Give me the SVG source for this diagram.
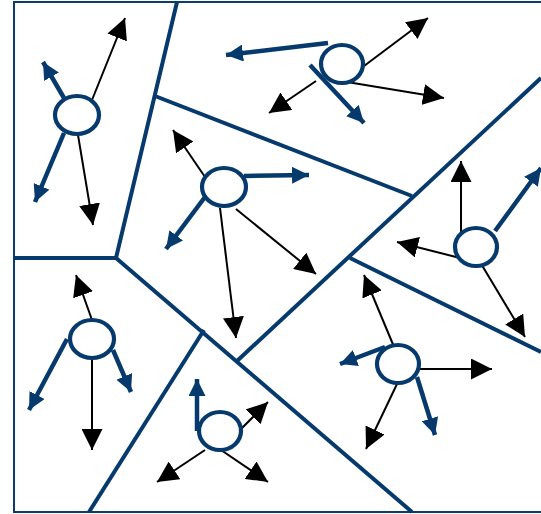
<svg xmlns="http://www.w3.org/2000/svg" width="541" height="514" viewBox="0 0 541 514">
<style>
.border{fill:none;stroke:#0a3d6e;stroke-width:2}
.part{fill:none;stroke:#063a6c;stroke-width:4;stroke-linecap:butt}
.node{fill:#fff;stroke:#063a6c;stroke-width:4.2}
.blk{stroke:#000;stroke-width:2;fill:none;marker-end:url(#hb)}
.blu{stroke:#063a6c;stroke-width:4.5;fill:none;marker-end:url(#hu)}
</style>
<defs>
<marker id="hb" markerUnits="userSpaceOnUse" markerWidth="21" markerHeight="21" refX="21" refY="10.5" orient="auto" viewBox="0 0 21 21">
<path d="M0,0 L21,10.5 L0,21 z" fill="#000"/>
</marker>
<marker id="hu" markerUnits="userSpaceOnUse" markerWidth="17" markerHeight="17" refX="17" refY="8.5" orient="auto" viewBox="0 0 17 17">
<path d="M0,0 L17,8.5 L0,17 z" fill="#063a6c"/>
</marker>
</defs>
<rect width="541" height="514" fill="#fff"/>
<g id="frame">
<path class="border" d="M541,2 L14,2 L14,512 L541,512"/>
</g>
<g id="partitions">
<path class="part" d="M177,2 L116,258 L13,258"/>
<path class="part" d="M155,96 L412,196"/>
<path class="part" d="M541,78 L237,361"/>
<path class="part" d="M350,258 L541,352"/>
<path class="part" d="M116,258 L412,512"/>
<path class="part" d="M89,512 L204,330"/>
</g>
<g id="connectors">
<!-- node A -->
<line class="blk" x1="92" y1="100" x2="125" y2="18"/>
<line class="blu" x1="64" y1="98" x2="43" y2="62"/>
<line class="blu" x1="64" y1="133" x2="35" y2="202"/>
<line class="blk" x1="77" y1="129" x2="93" y2="225"/>
<!-- node B -->
<line class="blu" x1="328" y1="43" x2="226" y2="55"/>
<line class="blk" x1="316" y1="81" x2="269" y2="113"/>
<line class="blk" x1="364" y1="66" x2="428" y2="18"/>
<line class="blk" x1="347" y1="82" x2="444" y2="98"/>
<!-- node C -->
<line class="blk" x1="205" y1="177" x2="173" y2="130"/>
<line class="blu" x1="244" y1="176" x2="309" y2="175"/>
<line class="blu" x1="205" y1="197" x2="166" y2="249"/>
<line class="blk" x1="220" y1="208" x2="236" y2="338"/>
<line class="blk" x1="236" y1="209" x2="316" y2="274"/>
<!-- node D -->
<line class="blk" x1="461" y1="243" x2="461" y2="161"/>
<line class="blu" x1="495" y1="231" x2="541" y2="168"/>
<line class="blk" x1="460" y1="258" x2="397" y2="242"/>
<line class="blk" x1="477" y1="257" x2="525" y2="337"/>
<!-- node E -->
<line class="blk" x1="92" y1="320" x2="76" y2="275"/>
<line class="blu" x1="67" y1="339" x2="29" y2="410"/>
<line class="blu" x1="113" y1="350" x2="131" y2="392"/>
<line class="blk" x1="92" y1="354" x2="92" y2="450"/>
<!-- node F -->
<line class="blu" x1="197" y1="431" x2="197" y2="379"/>
<line class="blk" x1="236" y1="434" x2="268" y2="402"/>
<line class="blk" x1="205" y1="450" x2="157" y2="482"/>
<line class="blk" x1="221" y1="450" x2="268" y2="482"/>
<!-- node G -->
<line class="blk" x1="397" y1="354" x2="364" y2="275"/>
<line class="blu" x1="385" y1="347" x2="340" y2="364"/>
<line class="blk" x1="412" y1="369" x2="492" y2="369"/>
<line class="blu" x1="417" y1="377" x2="435" y2="435"/>
<line class="blk" x1="397" y1="384" x2="366" y2="449"/>
</g>
<g id="nodeA"><ellipse class="node" cx="77" cy="115" rx="22" ry="19"/></g>
<g id="nodeB"><ellipse class="node" cx="342" cy="64" rx="21" ry="19"/></g>
<g id="nodeC"><ellipse class="node" cx="224" cy="187" rx="22" ry="19"/></g>
<g id="nodeD"><ellipse class="node" cx="476" cy="247" rx="21" ry="19"/></g>
<g id="nodeE"><ellipse class="node" cx="92" cy="339" rx="22" ry="19"/></g>
<g id="nodeF"><ellipse class="node" cx="220" cy="431" rx="21" ry="19"/></g>
<g id="nodeG"><ellipse class="node" cx="398" cy="364" rx="21" ry="19"/></g>
<g id="connectors-over">
<line class="blu" x1="310" y1="65" x2="364" y2="123"/>
</g>
</svg>
